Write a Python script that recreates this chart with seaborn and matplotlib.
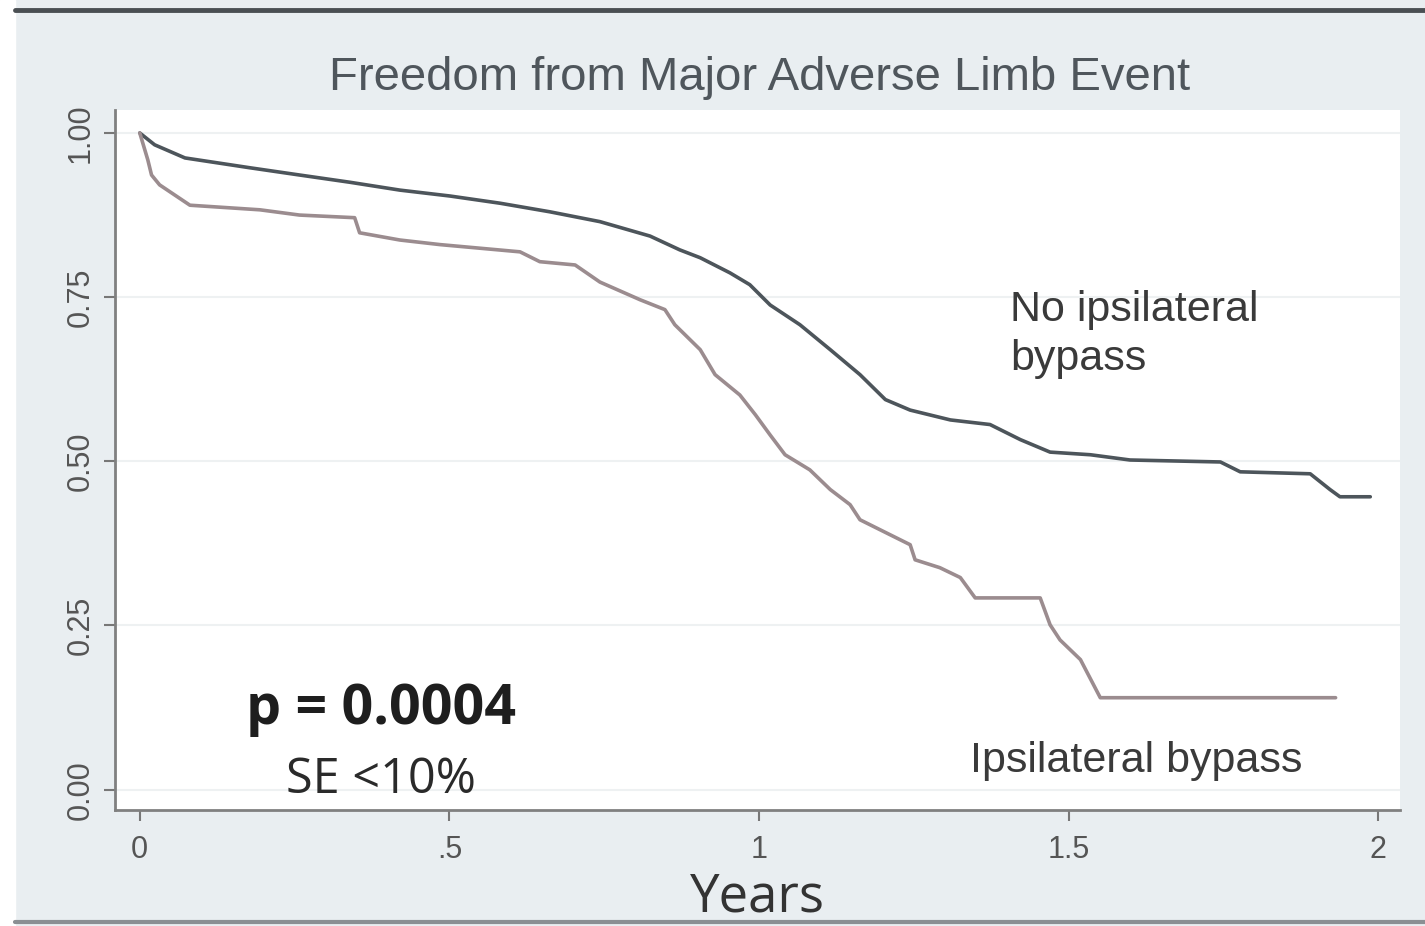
import numpy as np
import pandas as pd
import matplotlib
matplotlib.use("Agg")
import matplotlib.pyplot as plt
import seaborn as sns

# ---- data ----
no_bypass_years = [0.000, 0.024, 0.073, 0.178, 0.258, 0.339, 0.420, 0.501, 0.582, 0.662,
                   0.743, 0.824, 0.872, 0.905, 0.953, 0.985, 1.018, 1.066, 1.115, 1.163,
                   1.204, 1.244, 1.309, 1.373, 1.422, 1.470, 1.535, 1.599, 1.745, 1.777,
                   1.890, 1.922, 1.938, 1.987]
no_bypass_surv = [1.000, 0.982, 0.962, 0.947, 0.936, 0.925, 0.913, 0.904, 0.893, 0.880,
                  0.865, 0.843, 0.822, 0.810, 0.787, 0.769, 0.738, 0.708, 0.670, 0.632,
                  0.594, 0.578, 0.563, 0.556, 0.533, 0.514, 0.510, 0.502, 0.499, 0.484,
                  0.481, 0.457, 0.446, 0.446]

bypass_years = [0.000, 0.013, 0.019, 0.032, 0.081, 0.194, 0.258, 0.347, 0.355, 0.420,
                0.485, 0.614, 0.646, 0.703, 0.743, 0.808, 0.848, 0.864, 0.905, 0.929,
                0.969, 0.994, 1.018, 1.042, 1.082, 1.115, 1.147, 1.163, 1.212, 1.244,
                1.252, 1.292, 1.325, 1.349, 1.454, 1.470, 1.486, 1.519, 1.551, 1.931]
bypass_surv = [1.000, 0.959, 0.936, 0.921, 0.890, 0.883, 0.875, 0.871, 0.848, 0.837,
               0.830, 0.819, 0.804, 0.799, 0.773, 0.746, 0.731, 0.708, 0.670, 0.632,
               0.601, 0.571, 0.540, 0.510, 0.487, 0.457, 0.434, 0.411, 0.388, 0.373,
               0.350, 0.338, 0.323, 0.292, 0.292, 0.251, 0.228, 0.198, 0.140, 0.140]

x_ticks = [0, 0.5, 1, 1.5, 2]
x_tick_labels = ["0", ".5", "1", "1.5", "2"]
y_ticks = [0.0, 0.25, 0.5, 0.75, 1.0]
y_tick_labels = ["0.00", "0.25", "0.50", "0.75", "1.00"]

df_top = pd.DataFrame({"Years": no_bypass_years, "Surv": no_bypass_surv})
df_bot = pd.DataFrame({"Years": bypass_years, "Surv": bypass_surv})

# ---- figure ----
sns.set_style("white")
plt.rcParams["font.family"] = ["Liberation Sans", "DejaVu Sans"]

bg = "#e9eef1"
fig = plt.figure(figsize=(14.25, 9.26), dpi=100, facecolor=bg)
ax = fig.add_axes([115 / 1425, 1 - 810 / 926, (1400 - 115) / 1425, (810 - 110) / 926])
ax.set_facecolor("white")

for yv in y_ticks:
    ax.axhline(yv, color="#eef1f2", lw=1.5, zorder=0)

sns.lineplot(data=df_top, x="Years", y="Surv", ax=ax, color="#4d555b", lw=2.6,
             sort=False, estimator=None)
sns.lineplot(data=df_bot, x="Years", y="Surv", ax=ax, color="#9b8c8f", lw=2.6,
             sort=False, estimator=None)

ax.set_xlim(-0.04, 2.035)
ax.set_ylim(-0.031, 1.035)
ax.set_xticks(x_ticks)
ax.set_xticklabels(x_tick_labels)
ax.set_yticks(y_ticks)
ax.set_yticklabels(y_tick_labels, rotation=90, va="center")
ax.tick_params(axis="both", direction="out", length=8, width=1.5, color="#777777",
               labelsize=22, labelcolor="#555555", left=True, bottom=True)
ax.tick_params(axis="x", pad=10)
ax.tick_params(axis="y", pad=6)
ax.set_xlabel("Years", fontsize=38, color="#333333", labelpad=4,
              family=["Open Sans", "DejaVu Sans"])
ax.set_ylabel("")

for s in ["top", "right"]:
    ax.spines[s].set_visible(False)
for s in ["left", "bottom"]:
    ax.spines[s].set_color("#808080")
    ax.spines[s].set_linewidth(2.0)

fig.text(760 / 1425, 1 - 78 / 926, "Freedom from Major Adverse Limb Event",
         ha="center", va="center", fontsize=34, color="#4f565c")

ax.text(1.405, 0.693, "No ipsilateral\nbypass", ha="left", va="center", fontsize=31,
        color="#3a3a3a", linespacing=1.3)
ax.text(1.34, 0.043, "Ipsilateral bypass", ha="left", va="center", fontsize=31,
        color="#3a3a3a")
ax.text(0.39, 0.122, "p = 0.0004", ha="center", va="center", fontsize=40,
        fontweight="bold", color="#1e1e1e", family=["Open Sans", "DejaVu Sans"])
ax.text(0.39, 0.015, "SE <10%", ha="center", va="center", fontsize=35,
        color="#2a2a2a", family=["Open Sans", "DejaVu Sans"])

# page border lines
fig.add_artist(plt.Line2D([15 / 1425, 1], [1 - 10 / 926, 1 - 10 / 926],
                          transform=fig.transFigure, color="#4a4f53", lw=3.5))
fig.add_artist(plt.Line2D([15 / 1425, 1], [1 - 922 / 926, 1 - 922 / 926],
                          transform=fig.transFigure, color="#8a8f93", lw=3))
fig.add_artist(plt.Rectangle((0, 0), 15 / 1425, 1, transform=fig.transFigure,
                             color="white", zorder=-1))

fig.savefig("out.png", dpi=100, facecolor=bg)
